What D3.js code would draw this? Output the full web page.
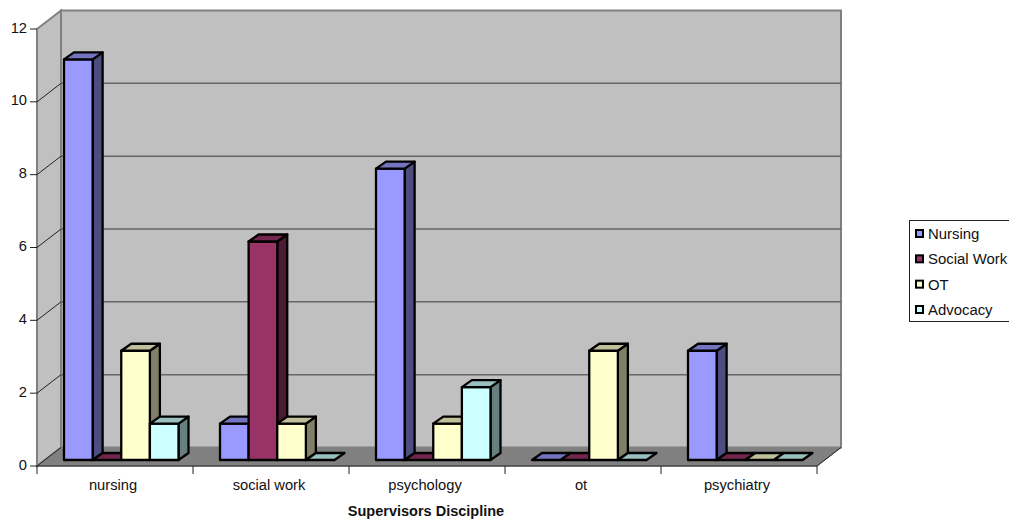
<!DOCTYPE html>
<html>
<head>
<meta charset="utf-8">
<script src="https://cdn.jsdelivr.net/npm/d3@7"></script>
<style>
  html, body { margin: 0; padding: 0; background: #fff; overflow: hidden; }
  text { font-family: "Liberation Sans", Arial, sans-serif; fill: #111; }
</style>
</head>
<body>
<svg id="chart" width="1009" height="520"></svg>
<script>
const categories = ["nursing", "social work", "psychology", "ot", "psychiatry"];
const seriesNames = ["Nursing", "Social Work", "OT", "Advocacy"];
const nursing = [11, 1, 8, 0, 3];
const socialWork = [0, 6, 0, 0, 0];
const ot = [3, 1, 1, 3, 0];
const advocacy = [1, 0, 2, 0, 0];
const yTicks = [0, 2, 4, 6, 8, 10, 12];
const seriesValues = [nursing, socialWork, ot, advocacy];
const seriesColors = ["#9999ff", "#993366", "#ffffcc", "#ccffff"];

const svg = d3.select("#chart");

// Front plane of the 3D box, plus the offset to its back wall.
const x = d3.scaleBand().domain(categories).range([37, 817]);
const y = d3.scaleLinear().domain([0, 12]).range([466, 29]);
const wallDx = 24, wallDy = -18.5;

// Bars stand partway into the floor, with their own small depth.
const barDx = 10, barDy = -7;
const barLift = -6, groupInset = 27;
const inner = d3.scaleBand().domain(d3.range(seriesNames.length))
  .range([groupInset, groupInset + 114.5]);

const gray = "#808080";
const labelSize = 14.7;
const points = p => p.map(d => d.join(",")).join(" ");

// Walls and floor
const x0 = 37, x1 = 817, yBase = y(0), yTop = y(12);
svg.append("polygon")
  .attr("points", points([[x0 + wallDx, yTop + wallDy], [x1 + wallDx, yTop + wallDy], [x1 + wallDx, yBase + wallDy], [x0 + wallDx, yBase + wallDy]]))
  .attr("fill", "#c0c0c0").attr("stroke", gray).attr("stroke-width", 2);
svg.append("polygon")
  .attr("points", points([[x0, yTop], [x0 + wallDx, yTop + wallDy], [x0 + wallDx, yBase + wallDy], [x0, yBase]]))
  .attr("fill", "#c0c0c0").attr("stroke", gray).attr("stroke-width", 2);
svg.append("polygon")
  .attr("points", points([[x0, yBase], [x1, yBase], [x1 + wallDx, yBase + wallDy], [x0 + wallDx, yBase + wallDy]]))
  .attr("fill", gray).attr("stroke", gray).attr("stroke-width", 1);

// Gridlines across the back wall and down the side wall
const gridValues = yTicks.filter(d => d > 0 && d < 12);
svg.append("g").selectAll("line").data(gridValues).join("line")
  .attr("x1", x0 + wallDx).attr("x2", x1 + wallDx)
  .attr("y1", d => y(d) + wallDy).attr("y2", d => y(d) + wallDy)
  .attr("stroke", "#666").attr("stroke-width", 1.5);
svg.append("g").selectAll("line").data(gridValues).join("line")
  .attr("x1", x0).attr("x2", x0 + wallDx)
  .attr("y1", d => y(d)).attr("y2", d => y(d) + wallDy)
  .attr("stroke", "#222").attr("stroke-width", 1);
svg.append("line")
  .attr("x1", x0).attr("x2", x0 + wallDx)
  .attr("y1", yBase).attr("y2", yBase + wallDy)
  .attr("stroke", "#222").attr("stroke-width", 1);
svg.append("line")
  .attr("x1", x1).attr("x2", x1 + wallDx)
  .attr("y1", yBase).attr("y2", yBase + wallDy)
  .attr("stroke", "#222").attr("stroke-width", 1);

// Bars, each a front face, a top and a right side
const bars = svg.append("g")
  .attr("stroke", "#000").attr("stroke-width", 2.3).attr("stroke-linejoin", "round");
categories.forEach((cat, c) => {
  seriesValues.forEach((vals, s) => {
    const left = x(cat) + inner(s), w = inner.bandwidth();
    const right = left + w;
    const bottom = y(0) + barLift, top = y(vals[c]) + barLift;
    const color = d3.color(seriesColors[s]);
    const shade = k => d3.rgb(color.r * k, color.g * k, color.b * k).formatHex();
    const g = bars.append("g");
    if (vals[c] > 0) {
      g.append("polygon")
        .attr("points", points([[right, top], [right + barDx, top + barDy], [right + barDx, bottom + barDy], [right, bottom]]))
        .attr("fill", shade(0.5));
      g.append("polygon")
        .attr("points", points([[left, top], [right, top], [right, bottom], [left, bottom]]))
        .attr("fill", color.formatHex());
    }
    g.append("polygon")
      .attr("points", points([[left, top], [left + barDx, top + barDy], [right + barDx, top + barDy], [right, top]]))
      .attr("fill", shade(0.75));
  });
});

// Axes along the front edge
const axisLayer = svg.append("g");
axisLayer.append("line").attr("x1", x0).attr("x2", x1).attr("y1", yBase).attr("y2", yBase)
  .attr("stroke", "#222").attr("stroke-width", 1);
axisLayer.selectAll(".xtick").data(d3.range(categories.length + 1)).join("line")
  .attr("class", "xtick")
  .attr("x1", d => x0 + d * x.step()).attr("x2", d => x0 + d * x.step())
  .attr("y1", yBase).attr("y2", yBase + 8)
  .attr("stroke", "#222").attr("stroke-width", 1);
axisLayer.selectAll(".ytick").data(yTicks).join("line")
  .attr("class", "ytick")
  .attr("x1", x0 - 7).attr("x2", x0)
  .attr("y1", d => y(d)).attr("y2", d => y(d))
  .attr("stroke", "#222").attr("stroke-width", 1);
axisLayer.selectAll(".ylabel").data(yTicks).join("text")
  .attr("class", "ylabel")
  .attr("x", 27).attr("y", d => y(d) + 3.5)
  .attr("text-anchor", "end").attr("font-size", labelSize)
  .text(d => d);
axisLayer.selectAll(".xlabel").data(categories).join("text")
  .attr("class", "xlabel")
  .attr("x", d => x(d) + x.bandwidth() / 2 - 2).attr("y", 490)
  .attr("text-anchor", "middle").attr("font-size", labelSize)
  .text(d => d);
svg.append("text")
  .attr("x", 426).attr("y", 516)
  .attr("text-anchor", "middle").attr("font-size", 14.5).attr("font-weight", "bold")
  .text("Supervisors Discipline");

// Legend, running off the right edge of the page
const legend = svg.append("g");
legend.append("rect")
  .attr("x", 909.5).attr("y", 220.5).attr("width", 120).attr("height", 101)
  .attr("fill", "#fff").attr("stroke", "#222").attr("stroke-width", 1);
const legendRow = d3.scalePoint().domain(seriesNames).range([234, 310]);
seriesNames.forEach((name, i) => {
  legend.append("rect")
    .attr("x", 916).attr("y", legendRow(name) - 4).attr("width", 7).attr("height", 7)
    .attr("fill", seriesColors[i]).attr("stroke", "#000").attr("stroke-width", 2);
  legend.append("text")
    .attr("x", 928).attr("y", legendRow(name) + 5)
    .attr("font-size", 14.9)
    .text(name);
});
</script>
</body>
</html>
